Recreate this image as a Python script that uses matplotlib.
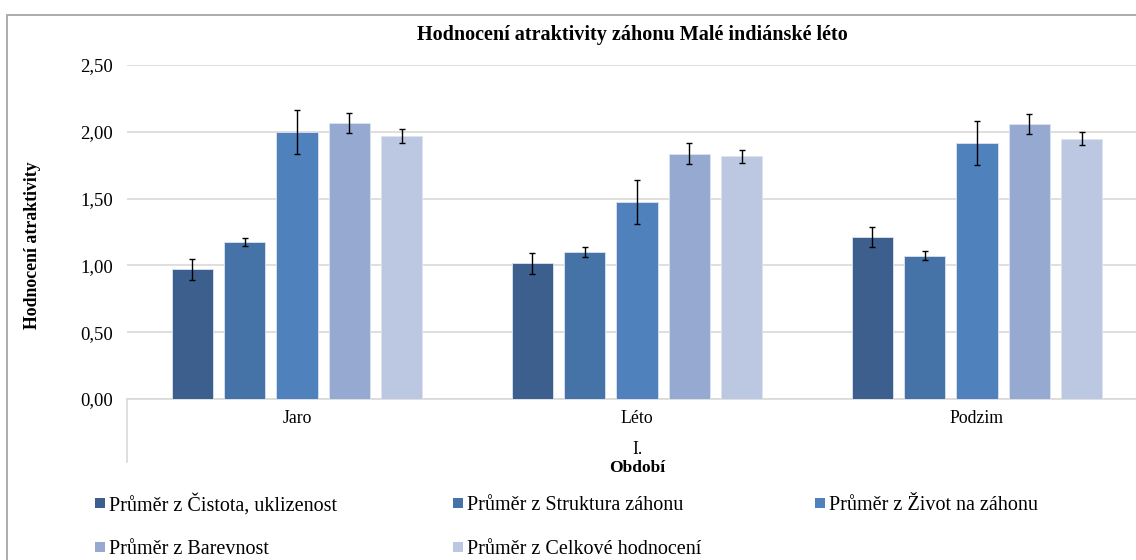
import matplotlib
matplotlib.use("Agg")
import matplotlib.pyplot as plt
import numpy as np
from matplotlib.lines import Line2D
from matplotlib.patches import Rectangle

plt.rcParams['font.family'] = ['Liberation Serif', 'DejaVu Serif']

categories = ["Jaro", "Léto", "Podzim"]
series_names = [
    "Průměr z Čistota, uklizenost",
    "Průměr z Struktura záhonu",
    "Průměr z Život na záhonu",
    "Průměr z Barevnost",
    "Průměr z Celkové hodnocení",
]
cistota = [0.97, 1.015, 1.215]
struktura = [1.175, 1.10, 1.073]
zivot = [2.00, 1.472, 1.913]
barevnost = [2.066, 1.836, 2.058]
celkove = [1.969, 1.816, 1.948]

err_cistota = [0.077, 0.077, 0.076]
err_struktura = [0.033, 0.034, 0.032]
err_zivot = [0.163, 0.165, 0.165]
err_barevnost = [0.075, 0.077, 0.075]
err_celkove = [0.05, 0.048, 0.05]

values = [cistota, struktura, zivot, barevnost, celkove]
errors = [err_cistota, err_struktura, err_zivot, err_barevnost, err_celkove]
colors = ["#3C5F8E", "#4572A7", "#4F81BD", "#95A9D1", "#BCC8E1"]

W, H = 1136, 560
fig = plt.figure(figsize=(W / 100, H / 100), dpi=100)

ax_left, ax_right = 127, 1147
ax_top, ax_bottom = 65, 399
ax = fig.add_axes([ax_left / W, 1 - ax_bottom / H, (ax_right - ax_left) / W, (ax_bottom - ax_top) / H])

x = np.arange(len(categories))
step = 0.1538
bw = 0.122
for i, (vals, errs, c) in enumerate(zip(values, errors, colors)):
    ax.bar(x + (i - 2) * step, vals, width=bw, color=c, edgecolor="#DCE3EF", linewidth=0.6, zorder=3)
    ax.errorbar(x + (i - 2) * step, vals, yerr=errs, fmt="none", ecolor="black",
                elinewidth=1.0, capsize=2.3, capthick=1.0, zorder=4)

ax.set_xlim(-0.5, 2.5)
ax.set_ylim(0, 2.5)
ax.set_yticks([0, 0.5, 1.0, 1.5, 2.0, 2.5])
ax.set_yticklabels(["0,00", "0,50", "1,00", "1,50", "2,00", "2,50"], fontsize=13.5)
ax.set_xticks(x)
ax.set_xticklabels(categories, fontsize=12.8)
ax.tick_params(axis="both", length=0, colors="black")
ax.tick_params(axis="y", pad=10)
ax.tick_params(axis="x", pad=8)
ax.yaxis.grid(True, color="#D9D9D9", linewidth=1.2, zorder=0)
ax.set_axisbelow(True)
for s in ["top", "right", "left"]:
    ax.spines[s].set_visible(False)
ax.spines["bottom"].set_color("#D9D9D9")
ax.spines["bottom"].set_linewidth(1.2)

# secondary category level line
fig.add_artist(Line2D([ax_left / W, ax_left / W], [1 - ax_bottom / H, 1 - 462 / H],
                      color="#D9D9D9", linewidth=1.2))

# outer chart border
fig.add_artist(Rectangle((7 / W, -0.1), 1.2, 1 - 15 / H + 0.1, fill=False,
                         edgecolor="#A6A6A6", linewidth=1.3))

fig.text(632 / W, 1 - 35 / H, "Hodnocení atraktivity záhonu Malé indiánské léto",
         ha="center", va="center", fontsize=14.5, fontweight="bold")
fig.text(33 / W, 1 - 245 / H, "Hodnocení atraktivity", rotation=90,
         ha="center", va="center", fontsize=12.8, fontweight="bold")
fig.text(637 / W, 1 - 450 / H, "I.", ha="center", va="center", fontsize=12.8)
fig.text(637 / W, 1 - 468 / H, "Období", ha="center", va="center", fontsize=12.5, fontweight="bold")

leg_pos = [(95, 503), (453, 503), (815, 503), (95, 547), (453, 547)]
for (lx, ly), name, c in zip(leg_pos, series_names, colors):
    fig.add_artist(Rectangle((lx / W, 1 - (ly + 5) / H), 10 / W, 10 / H,
                             facecolor=c, edgecolor="none"))
    fig.text((lx + 14) / W, 1 - (ly + 2) / H, name, ha="left", va="center", fontsize=14.5)

fig.savefig("out.png", dpi=100)
